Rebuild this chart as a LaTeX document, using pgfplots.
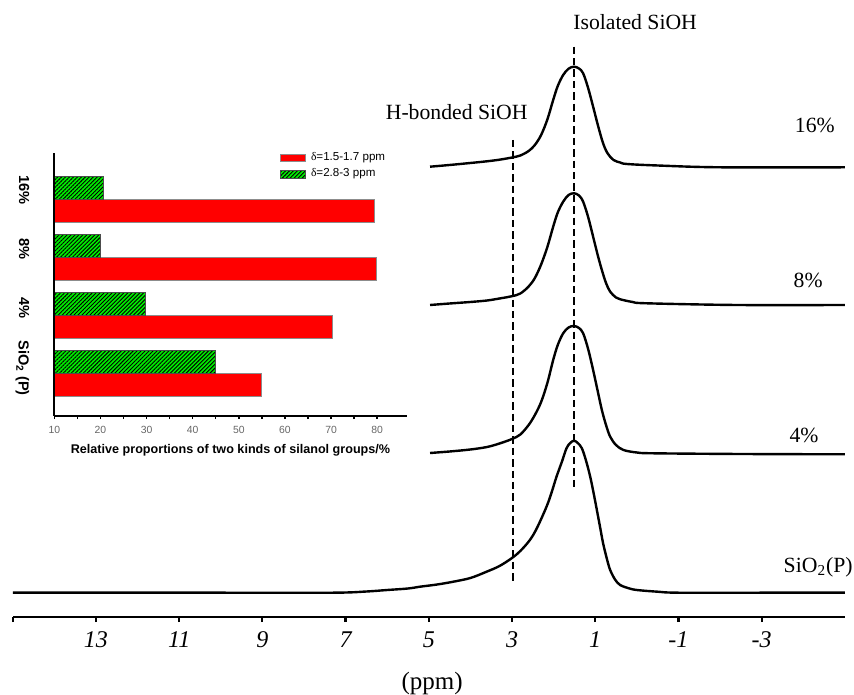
\documentclass[border=0pt]{standalone}
\usepackage{fontspec}
\setmainfont{Liberation Serif}
\setsansfont{Liberation Sans}
\usepackage{pgfplots}
\pgfplotsset{compat=1.18}
\usetikzlibrary{patterns.meta}
\definecolor{barred}{RGB}{255,0,0}
\definecolor{bargreen}{RGB}{0,235,0}

\begin{document}
\begin{tikzpicture}
\useasboundingbox (0,0) rectangle (427pt,347pt);
% ---------------- main spectra ----------------
\begin{axis}[
  at={(6.4pt,38.5pt)}, anchor=south west,
  scale only axis, width=416pt, height=308.5pt,
  xmin=-5, xmax=15, x dir=reverse,
  ymin=77, ymax=694,
  axis x line*=bottom, axis y line=none,
  clip=false,
  xtick={15,13,11,9,7,5,3,1,-1,-3},
  xticklabels={,13,11,9,7,5,3,1,-1,-3},
  xtick pos=left,
  tick align=outside, major tick length=2.5pt,
  xtick style={black, line width=1.1pt},
  axis line style={line width=1.2pt},
  xticklabel style={font=\itshape\fontsize{12}{14}\selectfont, yshift=-1.5pt},
  xlabel={(ppm)},
  xlabel style={font=\fontsize{12.5}{14}\selectfont, at={(axis description cs:0.504,-0.107)}, anchor=center},
]
% SiO2(P)
\addplot[black, line width=1.2pt, smooth, tension=0.55] coordinates {
(15,101.3) (10,101.3) (7.3,101.3) (6.5,102.5) (6.0,104) (5.5,105.5) (5.21,107.3)
(4.8,109.5) (4.41,112.3) (4.0,116) (3.61,122.3) (3.3,128) (3.0,136) (2.8,143)
(2.57,154) (2.4,166) (2.17,187.3) (2.05,201.3) (1.93,217.3) (1.8,232.3) (1.69,245.7)
(1.6,251) (1.51,253.3) (1.42,251) (1.32,245.7) (1.22,233.3) (1.12,217.3) (1.04,201.3)
(0.96,184) (0.88,166.3) (0.81,150.7) (0.72,135.3) (0.64,124) (0.52,114.3) (0.40,109)
(0.2,105.8) (0.0,104) (-0.5,102.3) (-1.0,101.3) (-3,101.3) (-5,101.3)};
% 4%
\addplot[black, line width=1.2pt, smooth, tension=0.55] coordinates {
(4.97,241) (4.5,242.5) (4.0,244.5) (3.6,247) (3.3,250.5) (3.0,255) (2.8,259.5)
(2.6,269) (2.45,279) (2.3,292) (2.15,311) (2.01,334) (1.9,349) (1.77,360.7)
(1.64,366.5) (1.51,368) (1.39,366) (1.29,360.7) (1.17,345) (1.05,324) (0.94,303)
(0.84,284) (0.74,269) (0.64,257.3) (0.5,249) (0.32,244) (0.0,241.5) (-0.4,240.7)
(-2.5,240) (-5,239.7)};
% 8%
\addplot[black, line width=1.2pt, smooth, tension=0.55] coordinates {
(4.97,389) (4.5,390.5) (4.0,392) (3.6,393.5) (3.3,395.5) (3.0,397.8) (2.8,400.5)
(2.6,407.5) (2.45,416) (2.3,429.5) (2.15,447) (2.01,467.3) (1.9,481.5) (1.77,492.3)
(1.64,499) (1.51,500.7) (1.39,498.5) (1.29,492.3) (1.17,477) (1.05,457.3) (0.94,439)
(0.84,424) (0.74,411) (0.64,402.3) (0.5,396.5) (0.40,394.7) (0.1,392) (-0.24,390.7)
(-2.4,389) (-5,389)};
% 16%
\addplot[black, line width=1.2pt, smooth, tension=0.55] coordinates {
(4.97,527.3) (4.5,529) (4.0,531) (3.6,532.7) (3.3,534.3) (3.0,536.5) (2.8,538.5)
(2.6,543) (2.45,549) (2.3,559) (2.15,574.5) (2.01,594) (1.9,608) (1.77,619)
(1.64,625.3) (1.51,627.3) (1.39,625.5) (1.29,620.7) (1.17,606) (1.05,587.3) (0.93,568)
(0.81,550.7) (0.7,540.5) (0.56,534) (0.4,531.5) (0.24,530) (-0.5,528.5) (-2.0,526.7)
(-5,526.7)};
% reference lines
\addplot[black, line width=0.85pt, dash pattern=on 3.7pt off 2pt] coordinates {(1.51,647.3) (1.51,207.3)};
\addplot[black, line width=0.85pt, dash pattern=on 3.7pt off 2pt] coordinates {(2.97,554) (2.97,112.3)};
\node[font=\fontsize{10.85}{13}\selectfont] at (axis cs:0.04,672.3) {Isolated SiOH};
\node[font=\fontsize{10.85}{13}\selectfont] at (axis cs:4.33,582.3) {H-bonded SiOH};
\node[font=\fontsize{10.85}{13}\selectfont] at (axis cs:-4.28,569) {16\%};
\node[font=\fontsize{10.85}{13}\selectfont] at (axis cs:-4.12,414) {8\%};
\node[font=\fontsize{10.85}{13}\selectfont] at (axis cs:-4.02,259) {4\%};
\node[font=\fontsize{10.85}{13}\selectfont] at (axis cs:-4.36,127) {SiO\textsubscript{2}(P)};
\end{axis}
% ---------------- inset bar chart ----------------
\begin{axis}[
  at={(27.15pt,139pt)}, anchor=south west,
  scale only axis, width=176.2pt, height=131.35pt,
  xmin=10, xmax=86.4, ymin=-0.736, ymax=3.793,
  xbar, bar width=0.4,
  axis on top,
  axis x line*=bottom, axis y line*=left,
  axis line style={line width=0.9pt, black},
  xtick={10,20,...,80}, minor x tick num=1,
  xtick pos=left, ytick pos=left,
  tick align=outside,
  major tick length=1.6pt, minor tick length=1.6pt,
  xtick style={line width=0.7pt, black},
  minor x tick style={line width=0.7pt, black},
  ytick={0.09,1.12,2.14,3.16},
  yticklabels={SiO\textsubscript{2} (P),4\%,8\%,16\%},
  ytick style={draw=none},
  yticklabel style={font=\sffamily\bfseries\fontsize{7.3}{8.5}\selectfont, rotate=-90, anchor=north},
  yticklabel shift=7.4pt,
  /pgf/number format/assume math mode=true,
  xticklabel style={font=\sffamily\fontsize{5.2}{6}\selectfont, text=black!60},
  xlabel={Relative proportions of two kinds of silanol groups/\%},
  xlabel style={font=\sffamily\bfseries\fontsize{6.3}{7.5}\selectfont, at={(axis description cs:0.5,-0.129)}, anchor=center},
  legend cell align=left,
  legend style={draw=none, fill=none, at={(0.6405,1)}, anchor=north west, yshift=1.2pt,
    inner sep=0pt, outer sep=0pt, row sep=1.6pt, column sep=2pt,
    nodes={inner sep=0.6pt},
    font=\sffamily\fontsize{5.8}{6.5}\selectfont},
  legend image code/.code={\draw[#1] (0pt,-1.85pt) rectangle (12.5pt,1.85pt);},
]
\addplot[fill=barred, draw=black!45, line width=0.4pt, bar shift=-0.2] coordinates {(55,0) (70.3,1) (79.9,2) (79.4,3)};
\addplot[fill=bargreen, draw=black!70, line width=0.4pt, bar shift=0.2,
  postaction={pattern={Lines[angle=45,distance=1.4pt,line width=0.45pt]}}] coordinates {(45,0) (29.7,1) (19.9,2) (20.6,3)};
\legend{{\rmfamily δ}=1.5-1.7 ppm, {\rmfamily δ}=2.8-3 ppm}
\end{axis}
\end{tikzpicture}
\end{document}
